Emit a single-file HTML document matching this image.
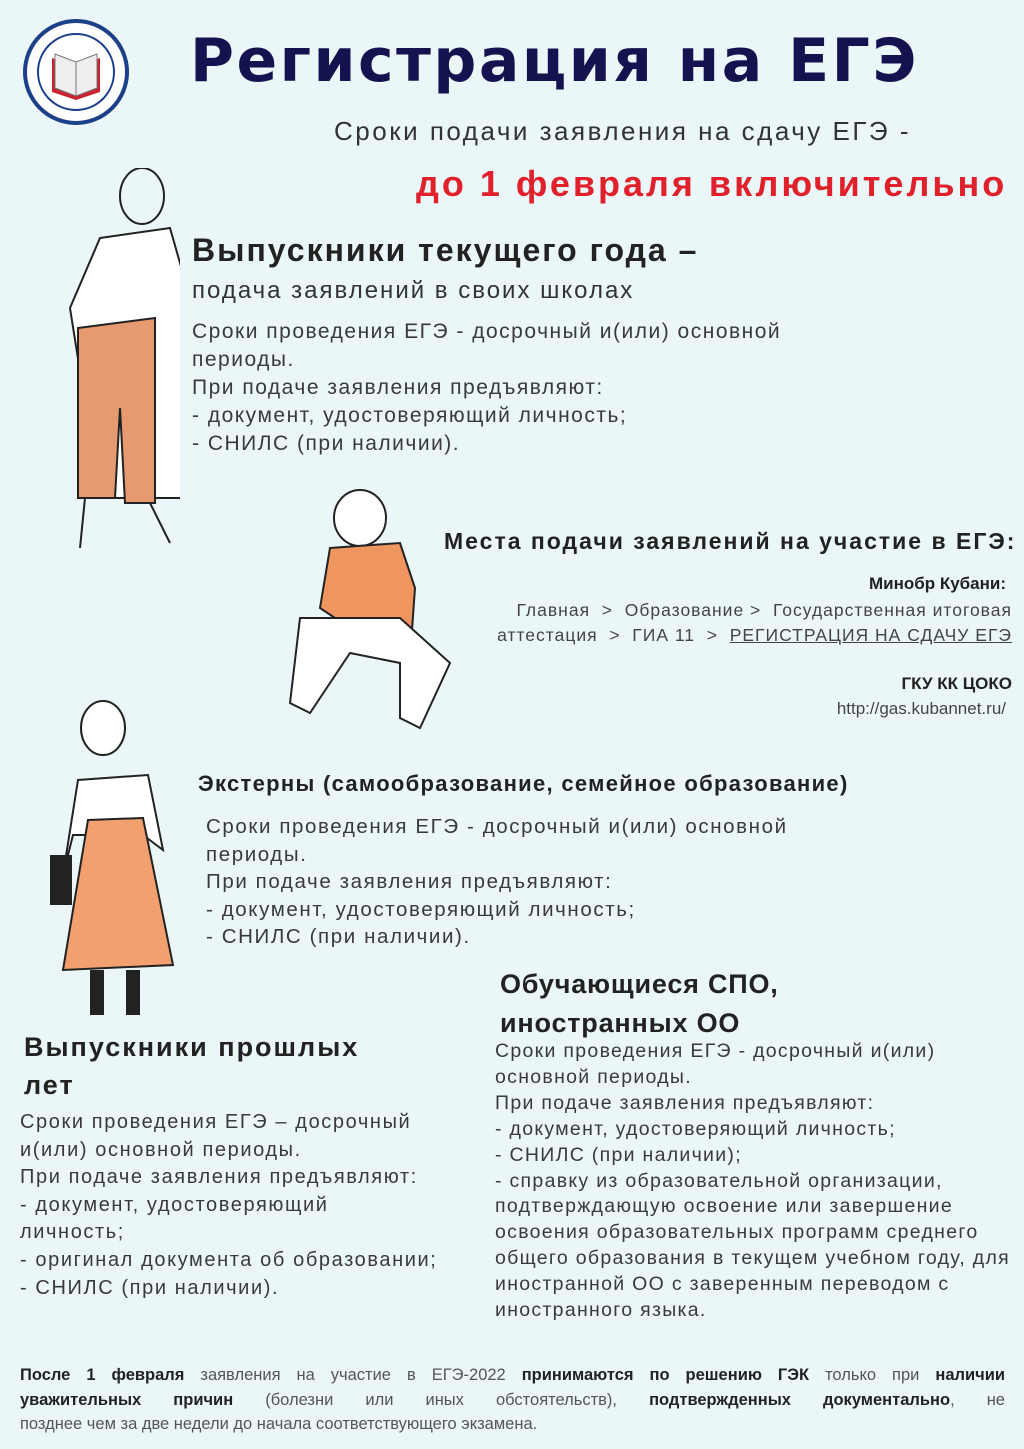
<!DOCTYPE html>
<html><head><meta charset="utf-8"><style>
body{margin:0;width:1024px;height:1449px;background:#eaf6f7;position:relative;overflow:hidden;font-family:"Liberation Sans","DejaVu Sans",sans-serif;color:#333}
.t{position:absolute;white-space:nowrap}
.b{font-size:21px;line-height:28px;color:#3a3a3a;letter-spacing:1.5px}
.h{font-weight:bold;color:#222}
.j{position:absolute;left:20px;width:985px;font-size:16.5px;color:#555;text-align:justify;text-align-last:justify;white-space:nowrap;height:25px}
.j b{color:#222}
</style></head><body>
<svg class="t" style="left:22px;top:18px" width="108" height="108" viewBox="0 0 108 108">
<circle cx="54" cy="54" r="51" fill="#fff" stroke="#1c3f8a" stroke-width="4"/>
<circle cx="54" cy="54" r="38" fill="#fff" stroke="#1c3f8a" stroke-width="2"/>
<path d="M30 40 L54 48 L78 40 L78 74 L54 82 L30 74Z" fill="#c9232e"/>
<path d="M33 36 L54 44 L75 36 L75 70 L54 78 L33 70Z" fill="#eee" stroke="#777"/>
<line x1="54" y1="44" x2="54" y2="78" stroke="#777"/>
</svg>
<div class="t" style="left:190px;top:26px;font-size:60px;font-weight:900;color:#14124f;letter-spacing:2.5px;font-family:'DejaVu Sans',sans-serif">Регистрация на ЕГЭ</div>
<div class="t" style="left:334px;top:116px;font-size:26px;color:#333;letter-spacing:2.5px">Сроки подачи заявления на сдачу ЕГЭ -</div>
<div class="t" style="left:416px;top:163px;font-size:36px;font-weight:bold;color:#e0202a;letter-spacing:3px">до 1 февраля включительно</div>

<svg class="t" style="left:40px;top:168px" width="140" height="390">
<ellipse cx="102" cy="28" rx="22" ry="28" fill="none" stroke="#222" stroke-width="2"/>
<path d="M60 70 L130 60 L150 130 L145 330 L60 330 L30 140Z" fill="#fff" stroke="#222" stroke-width="2"/>
<path d="M38 160 L115 150 L115 335 L85 335 L80 240 L75 330 L38 330Z" fill="#e59a6f" stroke="#222" stroke-width="2"/>
<path d="M45 330 L40 380 M110 335 L130 375" stroke="#222" stroke-width="2"/>
</svg>

<div class="t" style="left:192px;top:232px;font-size:32px;font-weight:bold;color:#222;letter-spacing:2px">Выпускники текущего года –</div>
<div class="t" style="left:192px;top:277px;font-size:24px;color:#333;letter-spacing:2px">подача заявлений в своих школах</div>
<div class="t b" style="left:192px;top:318px">Сроки проведения ЕГЭ - досрочный и(или) основной<br>периоды.<br>При подаче заявления предъявляют:<br>- документ, удостоверяющий личность;<br>- СНИЛС (при наличии).</div>

<svg class="t" style="left:270px;top:488px" width="190" height="270">
<ellipse cx="90" cy="30" rx="26" ry="28" fill="#fff" stroke="#222" stroke-width="2"/>
<path d="M60 60 L130 55 L145 100 L140 170 L80 140 L50 120Z" fill="#ee9560" stroke="#222" stroke-width="2"/>
<path d="M30 130 L130 130 L180 175 L150 240 L130 230 L130 175 L80 165 L40 225 L20 215Z" fill="#fff" stroke="#222" stroke-width="2"/>
</svg>

<div class="t h" style="left:444px;top:528px;font-size:23px;letter-spacing:2px">Места подачи заявлений на участие в ЕГЭ:</div>
<div class="t h" style="right:18px;top:574px;font-size:17px">Минобр Кубани:</div>
<div class="t" style="right:12px;top:598px;font-size:17.5px;line-height:25px;text-align:right;color:#444;letter-spacing:1px">Главная &nbsp;&gt;&nbsp; Образование &gt;&nbsp; Государственная итоговая<br>аттестация &nbsp;&gt;&nbsp; ГИА 11 &nbsp;&gt;&nbsp; <u>РЕГИСТРАЦИЯ НА СДАЧУ ЕГЭ</u></div>
<div class="t h" style="right:12px;top:674px;font-size:17px">ГКУ КК ЦОКО</div>
<div class="t" style="right:18px;top:699px;font-size:17px;color:#444">http://gas.kubannet.ru/</div>

<svg class="t" style="left:48px;top:700px" width="130" height="320">
<ellipse cx="55" cy="28" rx="22" ry="27" fill="#fff" stroke="#222" stroke-width="2"/>
<path d="M30 80 L100 75 L115 150 L95 135 L25 135 L15 175Z" fill="#fff" stroke="#222" stroke-width="2"/>
<path d="M40 120 L95 118 L125 265 L15 270Z" fill="#f3a070" stroke="#222" stroke-width="2"/>
<rect x="2" y="155" width="22" height="50" fill="#222"/>
<rect x="42" y="270" width="14" height="45" fill="#222"/><rect x="78" y="270" width="14" height="45" fill="#222"/>
</svg>

<div class="t h" style="left:198px;top:771px;font-size:22px;letter-spacing:1.3px">Экстерны (самообразование, семейное образование)</div>
<div class="t b" style="left:206px;top:813px;font-size:20.5px;line-height:27.5px;letter-spacing:1.6px">Сроки проведения ЕГЭ - досрочный и(или) основной<br>периоды.<br>При подаче заявления предъявляют:<br>- документ, удостоверяющий личность;<br>- СНИЛС (при наличии).</div>

<div class="t h" style="left:500px;top:965px;font-size:27px;line-height:39px;letter-spacing:0.8px">Обучающиеся СПО,<br>иностранных ОО</div>
<div class="t b" style="left:495px;top:1039px;font-size:19.5px;line-height:25.9px;letter-spacing:1.3px">Сроки проведения ЕГЭ - досрочный и(или)<br>основной периоды.<br>При подаче заявления предъявляют:<br>- документ, удостоверяющий личность;<br>- СНИЛС (при наличии);<br>- справку из образовательной организации,<br>подтверждающую освоение или завершение<br>освоения образовательных программ среднего<br>общего образования в текущем учебном году, для<br>иностранной ОО с заверенным переводом с<br>иностранного языка.</div>

<div class="t h" style="left:24px;top:1028px;font-size:27px;line-height:38px;letter-spacing:2px">Выпускники прошлых<br>лет</div>
<div class="t b" style="left:20px;top:1109px;font-size:20px;line-height:27.6px;letter-spacing:1.6px">Сроки проведения ЕГЭ – досрочный<br>и(или) основной периоды.<br>При подаче заявления предъявляют:<br>- документ, удостоверяющий<br>личность;<br>- оригинал документа об образовании;<br>- СНИЛС (при наличии).</div>

<div class="j" style="top:1366px"><b>После 1 февраля</b> заявления на участие в ЕГЭ-2022 <b>принимаются по решению ГЭК</b> только при <b>наличии</b></div>
<div class="j" style="top:1391px"><b>уважительных причин</b> (болезни или иных обстоятельств), <b>подтвержденных документально</b>, не</div>
<div class="t" style="left:20px;top:1415px;font-size:16.5px;color:#555">позднее чем за две недели до начала соответствующего экзамена.</div>
</body></html>
